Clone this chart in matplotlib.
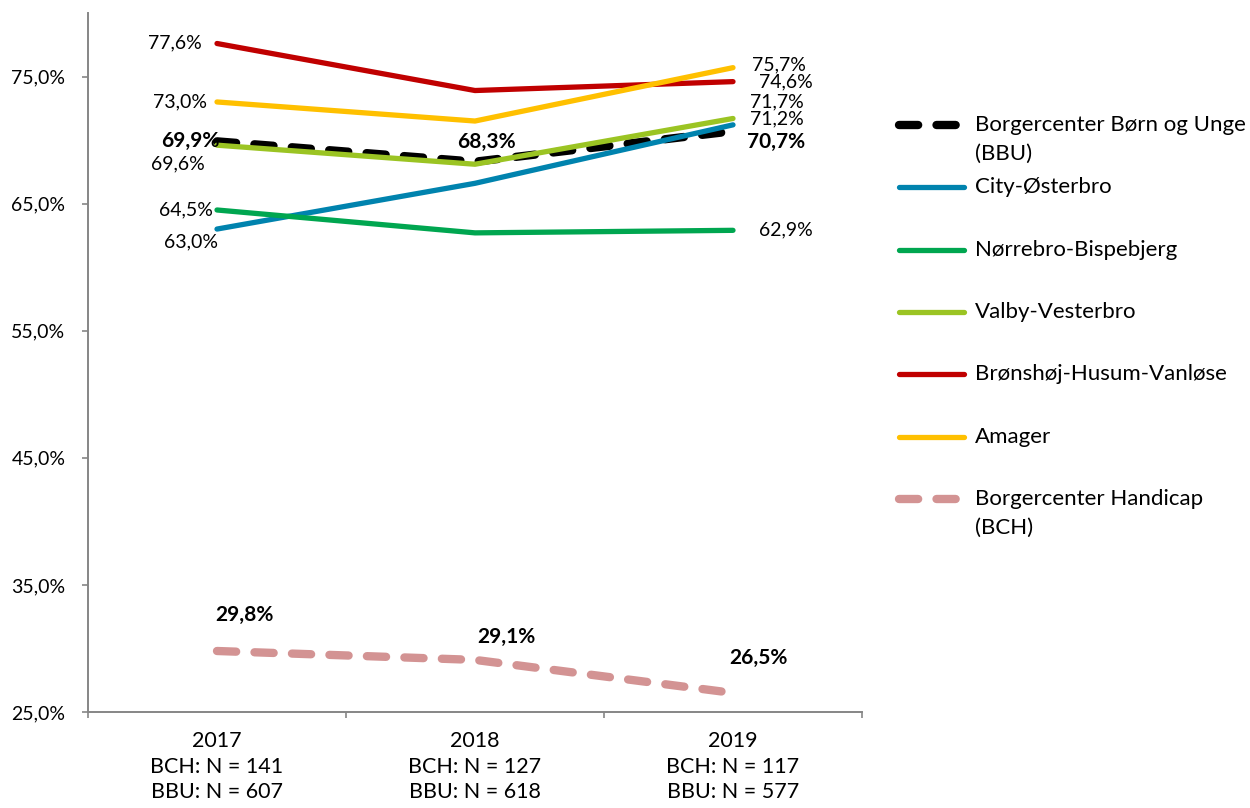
import matplotlib
matplotlib.use("Agg")
import matplotlib.pyplot as plt
from matplotlib.lines import Line2D

plt.rcParams['font.family'] = ['Lato', 'DejaVu Sans']

# data
years = ["2017", "2018", "2019"]
n_bch = [141, 127, 117]
n_bbu = [607, 618, 577]

series_names = [
    "Borgercenter Børn og Unge\n(BBU)",
    "City-Østerbro",
    "Nørrebro-Bispebjerg",
    "Valby-Vesterbro",
    "Brønshøj-Husum-Vanløse",
    "Amager",
    "Borgercenter Handicap\n(BCH)",
]
bbu = [69.9, 68.3, 70.7]
city = [63.0, 66.6, 71.2]
norrebro = [64.5, 62.7, 62.9]
valby = [69.6, 68.1, 71.7]
bronshoj = [77.6, 73.9, 74.6]
amager = [73.0, 71.5, 75.7]
bch = [29.8, 29.1, 26.5]
all_values = [bbu, city, norrebro, valby, bronshoj, amager, bch]

# styles
colors = ['#000000', '#0083AE', '#00A650', '#9BC423', '#C00000', '#FFC000', '#D39393']
widths = [6, 3.8, 3.8, 3.8, 3.8, 3.8, 6]
dashed = [True, False, False, False, False, False, True]
bold = [True, False, False, False, False, False, True]

# label offsets in pixels (dx, dy up), None = no label, plus alignment
offsets = [
    [(2, 0, 'right'), (11, 20, 'center'), (14, -11, 'left')],
    [(1, -13, 'right'), None, (17, 6, 'left')],
    [(-4, 0, 'right'), None, (26, 0, 'left')],
    [(-12, -19, 'right'), None, (17, 17, 'left')],
    [(-15, 1, 'right'), None, (26, 0, 'left')],
    [(-10, 0, 'right'), None, (19, 3, 'left')],
    [(27, 36, 'center'), (31, 23, 'center'), (25, 35, 'center')],
]

W, H = 1250, 808
fig = plt.figure(figsize=(W / 100, H / 100), dpi=100)
ax = fig.add_axes([88 / W, 1 - 712 / H, 774 / W, (712 - 13) / H])

x = list(range(len(years)))
for i, vals in enumerate(all_values):
    kw = dict(color=colors[i], lw=widths[i], solid_capstyle='round',
              dash_capstyle='round', solid_joinstyle='round')
    if dashed[i]:
        kw['dashes'] = (2.3, 2.2)
    ax.plot(x, vals, **kw)
    for j, v in enumerate(vals):
        off = offsets[i][j]
        if off is None:
            continue
        dx, dy, ha = off
        ax.annotate(f"{v:.1f}%".replace('.', ','), (j, v),
                    xytext=(dx * 0.72, dy * 0.72), textcoords='offset points',
                    ha=ha, va='center', fontsize=15 if bold[i] else 14,
                    fontweight='bold' if bold[i] else 'normal', color='black')

ax.set_xlim(-0.5, 2.5)
ax.set_ylim(25, 80)
ax.set_yticks([25, 35, 45, 55, 65, 75])
ax.set_yticklabels([f"{t:.1f}%".replace('.', ',') for t in [25, 35, 45, 55, 65, 75]],
                   fontsize=14)
ax.set_xticks(x)
ax.set_xticklabels([f"{y}\nBCH: N = {a}\nBBU: N = {b}" for y, a, b in zip(years, n_bch, n_bbu)],
                   fontsize=15.5, linespacing=1.32)
ax.set_xticks([-0.5, 0.5, 1.5, 2.5], minor=True)

for s in ['top', 'right']:
    ax.spines[s].set_visible(False)
for s in ['left', 'bottom']:
    ax.spines[s].set_color('#868686')
    ax.spines[s].set_linewidth(1.4)

ax.tick_params(axis='y', length=4.3, width=1.2, color='#868686', pad=12)
ax.tick_params(axis='x', which='major', length=0, pad=14)
ax.tick_params(axis='x', which='minor', length=4.3, width=1.2, color='#868686')

# legend drawn by hand so the handle sits on the first text line
leg_y = [125, 187, 250, 312, 374, 437, 499]
for i, name in enumerate(series_names):
    yf = 1 - leg_y[i] / H
    kw = dict(color=colors[i], lw=widths[i], solid_capstyle='round',
              dash_capstyle='round', transform=fig.transFigure)
    if dashed[i]:
        kw['dashes'] = (2.3, 2.2)
    fig.add_artist(Line2D([899 / W, 964 / W], [yf, yf], **kw))
    for k, line in enumerate(name.split('\n')):
        fig.text(975 / W, 1 - (leg_y[i] + 28.5 * k) / H, line,
                 fontsize=16, va='center', ha='left')

fig.savefig("out.png", dpi=100)
